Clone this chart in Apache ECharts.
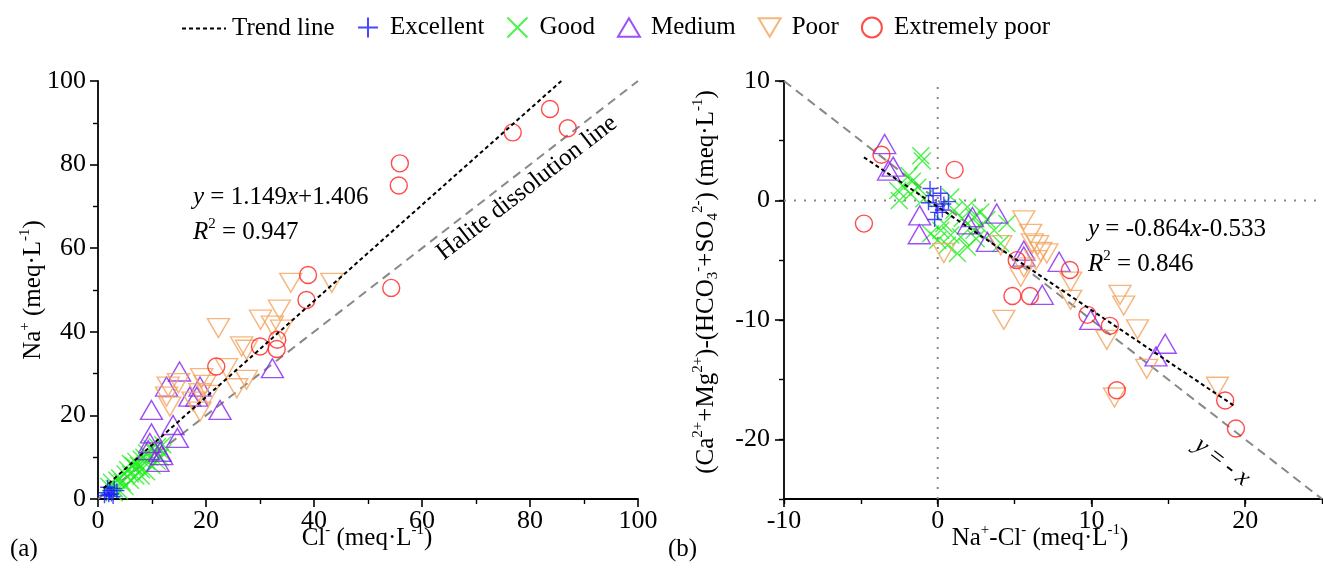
<!DOCTYPE html>
<html>
<head>
<meta charset="utf-8">
<script src="https://cdn.jsdelivr.net/npm/echarts@6/dist/echarts.min.js"></script>
<style>html,body{margin:0;padding:0;background:#fff;}#c{width:1323px;height:575px;}</style>
</head>
<body>
<div id="c"></div>
<script>
// ---------- DATA ----------
// Panel (a): [Cl-, Na+]
const leftExcellent = [[1.2,0.8],[1.5,1.5],[2,1],[2.2,2],[2.5,1.2],[3,2.5],[1.8,2.8],[2.8,0.6],[3.5,2]];
const leftGood = [[2,3],[3,2.5],[3.5,4.5],[4,5],[4.5,4],[5,6],[5.5,7],[6,6],[6.5,8],[7,7.5],[7,9],[7.5,8],[8,9.5],[8,7],[8.5,10],[9,9],[9,11],[9.5,10],[10,12],[10.5,11],[11,12.5],[11.5,10],[12,13],[6,4.5],[5,3],[4,2],[8,5.5],[9,6.5],[7,5.5],[10,8],[3,1.5],[2.5,4],[6,8.5],[12,11],[11,9]];
const leftMedium = [[15.1,30.5],[12.7,26.9],[9.9,21.3],[18.9,26.9],[17.0,24.5],[18.3,24.5],[22.6,21.3],[32.3,31.3],[13.9,17.7],[14.7,14.6],[9.9,15.7],[9.6,13.4],[11.5,11.3],[11.1,8.9],[9.3,11.7],[11.8,10.5]];
const leftPoor = [[35.7,51.7],[43.3,51.7],[33.6,45.3],[30.1,42.9],[22.3,40.9],[34,40.5],[32.3,41.5],[26.6,36.5],[27.5,35.7],[23.8,31.3],[27.5,28.5],[25.7,26.5],[19.2,28.9],[19.8,27.3],[18.9,25.3],[20.4,24.9],[18.9,20.9],[14.9,27.7],[13.0,26.9],[12.7,24.5],[13.3,22.1],[17.6,23.3]];
const leftExtPoor = [[21.9,31.7],[30,36.5],[33.2,38.1],[33.1,35.9],[38.6,47.6],[38.9,53.6],[54.3,50.5],[55.7,75],[55.9,80.3],[76.8,87.7],[83.7,93.3],[87,88.7]];
const leftTrendLine = [[1,2.56],[85.8,100]];
const leftHaliteLine = [[0,0],[100,100]];

// Panel (b): [Na+-Cl-, (Ca+Mg)-(HCO3+SO4)]
const rightExcellent = [[-0.5,1.0],[-0.3,0.4],[-0.6,-0.2],[-0.1,-0.5],[0.0,-1.0],[0.3,-0.8],[-0.2,-1.6],[0.4,-0.3],[0.7,-0.1],[0.2,0.6]];
const rightGood = [[-1.1,3.75],[-1.0,3.3],[-1.87,2.08],[-1.65,1.6],[-2.2,1.1],[-2.6,0.83],[-2.5,0],[-1.3,1.1],[-0.9,0.14],[-1.76,0.56],[0.85,0.28],[1.06,-0.83],[1.93,-0.56],[2.37,-1.39],[2.8,-0.97],[0.2,-2.5],[0.85,-2.9],[1.5,-3.06],[0,-3.33],[1.93,-3.9],[1.28,-4.44],[0.63,-3.75],[-0.46,-2.8],[2.8,-2.2],[3.67,-2.5],[4.1,-3.6],[4.5,-1.94],[2.37,-2.5],[0.4,-1.94],[1.6,-1.5],[3.2,-1.6],[2.5,-3.2]];
const rightMedium = [[-3.45,4.72],[-2.9,2.83],[-3.2,2.5],[-1.17,-1.25],[-1.2,-2.83],[2.26,-1.39],[2.0,-2.0],[3.84,-1.1],[3.23,-3.47],[5.6,-4.7],[5.6,-4.2],[7.9,-5.14],[6.8,-7.9],[9.95,-10],[14.8,-12],[14.2,-13.06]];
const rightPoor = [[0.4,-4.4],[4.1,-3.75],[5.6,-1.67],[6.05,-2.8],[6.16,-3.6],[6.5,-3.75],[6.7,-4.3],[7.1,-4.44],[6.4,-5.0],[5.6,-5.6],[5.4,-6.4],[4.3,-10],[8.65,-6.8],[8.65,-8.33],[11.86,-7.9],[12.1,-8.8],[13.0,-10.8],[11.0,-11.67],[13.6,-14.1],[11.5,-16.5],[18.2,-15.6]];
const rightExtPoor = [[-4.8,-1.94],[-3.66,3.83],[1.1,2.56],[5.14,-5.0],[4.86,-8.0],[6.0,-8.0],[8.6,-5.83],[9.74,-9.58],[11.2,-10.5],[11.65,-15.9],[18.7,-16.75],[19.4,-19.1]];
const rightTrendLine = [[-4.8,3.61],[19.3,-17.21]];
const rightIdentityLine = [[-10,10],[25,-25]];
const rightZeroV = [[0,-25],[0,10]];
const rightZeroH = [[-10,0],[25,0]];

const rightXMajor = [-10,0,10,20];
const rightXMinor = [-5,5,15,25];
const rightYMajor = [-20,-10,0,10];
const rightYMinor = [-25,-15,-5,5];

// ---------- STYLE ----------
const FONT = 'Liberation Serif';
const FS = 25;
const C = {exc:'#1a1aff', good:'#22ee22', med:'#8324f2', poor:'#f4a25c', ext:'#ff1f1f'};
const PLUS = 'path://M0,-10L0,10M-10,0L10,0';
const CROSS = 'path://M-10,-10L10,10M-10,10L10,-10';
const UPTRI = 'path://M10,0L20,17L0,17Z';
const DOWNTRI = 'path://M0,0L20,0L10,17Z';

function scat(name, data, xi, sym, size, color) {
  return {
    type:'scatter', name, data, xAxisIndex:xi, yAxisIndex:xi, symbol:sym, symbolSize:size, z:3,
    itemStyle:{color:'rgba(0,0,0,0)', borderColor:color, borderWidth:1.4},
    emphasis:{disabled:true}, silent:true
  };
}
function line(name, data, xi, color, type, width, z) {
  return {type:'line', name, data, xAxisIndex:xi, yAxisIndex:xi, symbol:'none', z:z||4,
    itemStyle:{color:'rgba(0,0,0,0)', borderColor:'rgba(0,0,0,0)'},
    lineStyle:{color, type, width}, silent:true, animation:false};
}

const rich = {
  n:{fontFamily:FONT, fontSize:FS, color:'#000', lineHeight:30},
  i:{fontFamily:FONT, fontSize:FS, fontStyle:'italic', color:'#000', lineHeight:30},
  sup:{fontFamily:FONT, fontSize:15, color:'#000', verticalAlign:'top', lineHeight:30},
  sub:{fontFamily:FONT, fontSize:15, color:'#000', verticalAlign:'bottom', lineHeight:30}
};
function rtext(x, y, text, align, rotation) {
  return {type:'text', x, y, rotation: rotation||0, z:10, silent:true,
    style:{text, rich, align: align||'center', verticalAlign:'middle', font:FS+'px '+FONT}};
}

const axisLbl = {fontFamily:FONT, fontSize:26, color:'#000'};
const axisLineS = {show:true, onZero:false, lineStyle:{color:'#000', width:1.8}};
const hiddenLine = {show:false, onZero:false};

const option = {
  animation:false,
  backgroundColor:'#fff',
  legend:[
    {left:176, top:11, itemWidth:44, itemHeight:14, data:['Trend line'],
     textStyle:{fontFamily:FONT, fontSize:FS, color:'#000', padding:[0,0,0,1]}},
    {left:352, top:10, itemWidth:22, itemHeight:20, itemGap:22,
     data:['Excellent','Good','Medium','Poor','Extremely poor'],
     textStyle:{fontFamily:FONT, fontSize:FS, color:'#000', padding:[0,0,0,6]}}
  ],
  grid:[
    {left:98, top:81, width:540, height:418},
    {left:784, top:81, width:538, height:418}
  ],
  xAxis:[
    {gridIndex:0, type:'value', min:0, max:100, interval:20, position:'bottom', axisLine:axisLineS,
     axisTick:{show:true, length:8, lineStyle:{color:'#000', width:1.6}},
     minorTick:{show:true, splitNumber:2, length:5, lineStyle:{color:'#000', width:1.4}},
     axisLabel:Object.assign({margin:9}, axisLbl), splitLine:{show:false}},
    {gridIndex:1, type:'value', min:-10, max:25, interval:5, position:'bottom', axisLine:axisLineS,
     axisTick:{show:true, length:5, lineStyle:{color:'#000', width:1.4}},
     axisLabel:Object.assign({margin:9, customValues:rightXMajor}, axisLbl), splitLine:{show:false}},
    {gridIndex:1, type:'value', min:-10, max:25, interval:10, position:'bottom', offset:0, axisLine:hiddenLine,
     axisTick:{show:true, length:8, customValues:rightXMajor, lineStyle:{color:'#000', width:1.6}},
     axisLabel:{show:false}, splitLine:{show:false}}
  ],
  yAxis:[
    {gridIndex:0, type:'value', min:0, max:100, interval:20, position:'left', axisLine:axisLineS,
     axisTick:{show:true, length:8, lineStyle:{color:'#000', width:1.6}},
     minorTick:{show:true, splitNumber:2, length:5, lineStyle:{color:'#000', width:1.4}},
     axisLabel:Object.assign({margin:12}, axisLbl), splitLine:{show:false}},
    {gridIndex:1, type:'value', min:-25, max:10, interval:5, position:'left', axisLine:axisLineS,
     axisTick:{show:true, length:5, lineStyle:{color:'#000', width:1.4}},
     axisLabel:Object.assign({margin:14, customValues:rightYMajor}, axisLbl), splitLine:{show:false}},
    {gridIndex:1, type:'value', min:-25, max:10, interval:5, position:'left', offset:0, axisLine:hiddenLine,
     axisTick:{show:true, length:9, customValues:rightYMajor, lineStyle:{color:'#000', width:1.6}},
     axisLabel:{show:false}, splitLine:{show:false}}
  ],
  series:[
    {type:'scatter', name:'_ticks', data:[[0,0]], xAxisIndex:2, yAxisIndex:2, symbolSize:0, silent:true},
    line('zeroV', rightZeroV, 1, '#888', [2,8], 2, 1),
    line('zeroH', rightZeroH, 1, '#888', [2,8], 2, 1),
    line('Halite', leftHaliteLine, 0, '#888', [9,6], 2, 2),
    line('Identity', rightIdentityLine, 1, '#888', [9,6], 2, 2),
    scat('Good', leftGood, 0, CROSS, 17, C.good),
    scat('Excellent', leftExcellent, 0, PLUS, 15, C.exc),
    scat('Medium', leftMedium, 0, UPTRI, [22,19], C.med),
    scat('Poor', leftPoor, 0, DOWNTRI, [22,19], C.poor),
    scat('Extremely poor', leftExtPoor, 0, 'circle', 17, C.ext),
    scat('Good', rightGood, 1, CROSS, 17, C.good),
    scat('Excellent', rightExcellent, 1, PLUS, 15, C.exc),
    scat('Medium', rightMedium, 1, UPTRI, [22,19], C.med),
    scat('Poor', rightPoor, 1, DOWNTRI, [22,19], C.poor),
    scat('Extremely poor', rightExtPoor, 1, 'circle', 17, C.ext),
    line('Trend line', leftTrendLine, 0, '#000', [4,3], 2, 6),
    line('Trend line', rightTrendLine, 1, '#000', [4,3], 2, 6)
  ],
  graphic:[
    rtext(193, 197, '{i|y}{n| = 1.149}{i|x}{n|+1.406}', 'left'),
    rtext(193, 232, '{i|R}{sup|2}{n| = 0.947}', 'left'),
    rtext(527, 188, '{n|Halite dissolution line}', 'center', 0.658),
    rtext(1088, 229, '{i|y}{n| = -0.864}{i|x}{n|-0.533}', 'left'),
    rtext(1088, 264, '{i|R}{sup|2}{n| = 0.846}', 'left'),
    rtext(1222, 462, '{i|y}{n| = - }{i|x}', 'center', -0.66),
    rtext(367, 538, '{n|Cl}{sup|-}{n| (meq·L}{sup|-1}{n|)}', 'center'),
    rtext(1040, 538, '{n|Na}{sup|+}{n|-Cl}{sup|-}{n| (meq·L}{sup|-1}{n|)}', 'center'),
    rtext(33, 290, '{n|Na}{sup|+}{n| (meq·L}{sup|-1}{n|)}', 'center', Math.PI/2),
    rtext(706, 282, '{n|(Ca}{sup|2+}{n|+Mg}{sup|2+}{n|)-(HCO}{sub|3}{sup|-}{n|+SO}{sub|4}{sup|2-}{n|) (meq·L}{sup|-1}{n|)}', 'center', Math.PI/2),
    rtext(10, 549, '{n|(a)}', 'left'),
    rtext(668, 549, '{n|(b)}', 'left')
  ]
};
const chart = echarts.init(document.getElementById('c'), null, {renderer:'canvas'});
chart.setOption(option);
</script>
</body>
</html>
